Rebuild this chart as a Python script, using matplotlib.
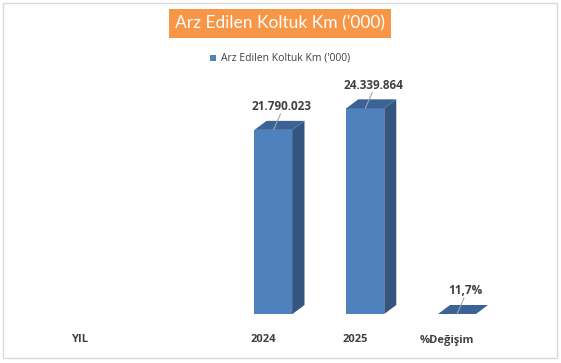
import matplotlib.pyplot as plt
from matplotlib.patches import Polygon, Rectangle

categories = ['YIL', '', '2024', '2025', '%Değişim']
values = [None, None, 21790023, 24339864, 11.7]
labels = ['', '', '21.790.023', '24.339.864', '11,7%']
title = "Arz Edilen Koltuk Km ('000)"

front = '#4f81bd'
top = '#3b6396'
side = '#34557f'
txt = '#404040'

W, H = 561, 363
fig = plt.figure(figsize=(W / 100, H / 100), dpi=100)

# plot area in pixels: categories 34..493, baseline at y=314, 8.45 px per million
x0, x1 = 34.1, 492.9
yb, ytop = 314, 60
ax = fig.add_axes([x0 / W, (H - yb) / H, (x1 - x0) / W, (yb - ytop) / H])
pxm = 8.45 / 1e6
ax.set_xlim(-0.5, len(categories) - 0.5)
ax.set_ylim(0, (yb - ytop) / pxm)
ax.axis('off')

ux = (x1 - x0) / len(categories)  # px per category
bw = 38 / ux
off = 10 / ux
ddx = 12 / ux
ddy = 9 / pxm

for i, v in enumerate(values):
    if v is None:
        continue
    l = i + off - bw / 2
    r = l + bw
    ax.add_patch(Rectangle((l, 0), bw, v, facecolor=front, edgecolor='none', clip_on=False))
    ax.add_patch(Polygon([(l, v), (r, v), (r + ddx, v + ddy), (l + ddx, v + ddy)],
                         facecolor=top, edgecolor='none', clip_on=False))
    if v > 1000:
        ax.add_patch(Polygon([(r, 0), (r + ddx, ddy), (r + ddx, v + ddy), (r, v)],
                             facecolor=side, edgecolor='none', clip_on=False))
    ax.annotate(labels[i], xy=(i + off, v), xytext=(8, 23), textcoords='offset pixels',
                ha='center', va='center', fontsize=8.5, fontweight='bold', color=txt,
                family='Open Sans', annotation_clip=False)
    ax.annotate('', xy=(i + off, v), xytext=(7, 16), textcoords='offset pixels',
                arrowprops=dict(arrowstyle='-', color='#a6a6a6', lw=0.8, shrinkA=0, shrinkB=0),
                annotation_clip=False)

for i, c in enumerate(categories):
    ax.annotate(c, xy=(i, 0), xytext=(0, -26), textcoords='offset pixels', ha='center',
                va='center', fontsize=8, fontweight='bold', color=txt, family='Open Sans',
                annotation_clip=False)

# title
fig.text(280 / W, 1 - 23.5 / H, title, ha='center', va='center', fontsize=12.5, color='white',
         family='Lato', bbox=dict(boxstyle='square,pad=0.35', facecolor='#f79646', edgecolor='none'))

# legend
fig.patches.append(Rectangle((210 / W, 1 - 61 / H), 6 / W, 6 / H, transform=fig.transFigure,
                             facecolor=front, edgecolor='none'))
fig.text(221 / W, 1 - 58 / H, title, ha='left', va='center', fontsize=7.5, color=txt, family='Open Sans')

# border
fig.patches.append(Rectangle((3 / W, 1 - 358 / H), 554 / W, 355 / H, transform=fig.transFigure,
                             facecolor='none', edgecolor='#d9d9d9', lw=1))

fig.savefig('out.png', dpi=100)
